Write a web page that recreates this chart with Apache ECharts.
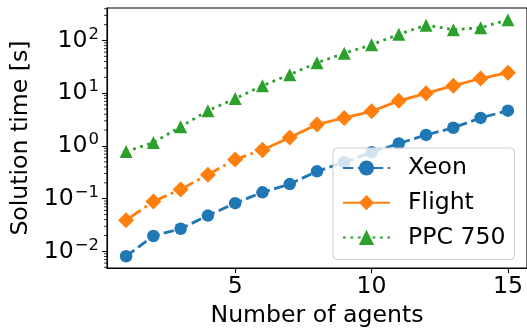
<!DOCTYPE html>
<html>
<head>
<meta charset="utf-8">
<script src="https://cdn.jsdelivr.net/npm/echarts@6/dist/echarts.min.js"></script>
<style>
  html, body { margin: 0; padding: 0; background: #fff; }
  #chart { width: 527px; height: 333px; }
</style>
</head>
<body>
<div id="chart"></div>
<script>
// ---- data ----
const agents = [1, 2, 3, 4, 5, 6, 7, 8, 9, 10, 11, 12, 13, 14, 15];
const xeon   = [0.0081, 0.0196, 0.0269, 0.0478, 0.082, 0.132, 0.189, 0.33, 0.49, 0.757, 1.11, 1.62, 2.21, 3.40, 4.66];
const flight = [0.039, 0.0883, 0.150, 0.285, 0.552, 0.84, 1.44, 2.55, 3.40, 4.54, 7.16, 9.96, 13.9, 19.0, 24.5];
const ppc750 = [0.78, 1.16, 2.31, 4.66, 7.9, 13.9, 22.5, 37.7, 57.2, 82.8, 131, 195, 160, 175, 246];
const flightSolidFrom = 6;          // Flight drawn dash-dot up to 6 agents, solid after
const xTicks = [5, 10, 15];
const yMinorTicks = [];
[0.001, 0.01, 0.1, 1, 10, 100].forEach(function (d) {
  [2, 3, 4, 5, 6, 7, 8, 9].forEach(function (m) { yMinorTicks.push(+(m * d).toPrecision(3)); });
});

const X_MIN = 0.3, X_MAX = 15.7;
const Y_MIN = 0.00482, Y_MAX = 413;
const FONT = 'DejaVu Sans';
const FS = 23.6;

const pairs = (ys, keep) => agents.map((x, i) => keep(x) ? [x, ys[i]] : null).filter(Boolean);

function logLabel(v) {
  const e = Math.round(Math.log10(v));
  if (Math.abs(Math.log10(v) - e) > 1e-6) return '';
  const s = String(e).replace('-', '\u2212');
  return '{b|10}{s|' + s + '}';
}

const chart = echarts.init(document.getElementById('chart'), null, { renderer: 'canvas' });
chart.setOption({
  animation: false,
  textStyle: { fontFamily: FONT },
  grid: { left: 107, top: 8, width: 422, height: 264.7, show: true, borderColor: '#000', borderWidth: 1.1, backgroundColor: 'transparent' },
  xAxis: {
    type: 'value', min: X_MIN, max: X_MAX,
    name: 'Number of agents', nameLocation: 'middle', nameGap: 35,
    nameTextStyle: { fontSize: FS, color: '#000', fontFamily: FONT },
    axisLine: { lineStyle: { color: '#000', width: 1.1 } },
    axisTick: { customValues: xTicks, length: 5, lineStyle: { color: '#000', width: 1.1 } },
    axisLabel: { customValues: xTicks, fontSize: FS, color: '#000', margin: 7, fontFamily: FONT },
    splitLine: { show: false }
  },
  yAxis: {
    type: 'log', logBase: 10, min: Y_MIN, max: Y_MAX,
    name: 'Solution time [s]', nameLocation: 'middle', nameGap: 72,
    nameTextStyle: { fontSize: FS, color: '#000', fontFamily: FONT },
    axisLine: { show: true, lineStyle: { color: '#000', width: 1.1 } },
    axisTick: { show: true, length: 5, lineStyle: { color: '#000', width: 1.1 } },
    axisLabel: {
      showMinLabel: false, showMaxLabel: false, margin: 8,
      formatter: logLabel,
      rich: {
        b: { fontSize: FS, color: '#000', fontFamily: FONT },
        s: { fontSize: 16.5, color: '#000', fontFamily: FONT, padding: [0, 0, 12, 1] }
      }
    },
    splitLine: { show: false }
  },
  legend: {
    data: ['Xeon', 'Flight', 'PPC 750'],
    orient: 'vertical', left: 333, top: 148,
    itemWidth: 47, itemHeight: 19, itemGap: 8.7,
    padding: [7, 9, 9, 9],
    backgroundColor: 'rgba(255,255,255,0.8)', borderColor: '#cccccc', borderWidth: 1, borderRadius: 4,
    textStyle: { fontSize: FS, color: '#000', fontFamily: FONT, padding: [0, 0, 0, 13], lineHeight: 26 }
  },
  series: [
    {
      name: 'Xeon', type: 'line', data: pairs(xeon, () => true),
      symbol: 'circle', symbolSize: 12.5,
      lineStyle: { color: '#1f77b4', width: 2.8, type: [10.4, 4.5] },
      itemStyle: { color: '#1f77b4' }
    },
    {
      name: 'Flight (dash-dot)', type: 'line', data: pairs(flight, x => x <= flightSolidFrom),
      symbol: 'diamond', symbolSize: 16,
      lineStyle: { color: '#ff7f0e', width: 2.8, type: [17.9, 4.5, 2.8, 4.5] },
      itemStyle: { color: '#ff7f0e' }
    },
    {
      name: 'Flight', type: 'line', data: pairs(flight, x => x >= flightSolidFrom),
      symbol: 'diamond', symbolSize: 16,
      lineStyle: { color: '#ff7f0e', width: 2.8, type: 'solid' },
      itemStyle: { color: '#ff7f0e' }
    },
    {
      name: 'PPC 750', type: 'line', data: pairs(ppc750, () => true),
      symbol: 'triangle', symbolSize: 13,
      lineStyle: { color: '#2ca02c', width: 2.8, type: [2.8, 4.6] },
      itemStyle: { color: '#2ca02c' }
    },
    {
      name: 'minorTicks', type: 'custom', silent: true, clip: false,
      data: yMinorTicks.filter(v => v > Y_MIN && v < Y_MAX).map(v => [X_MIN, v]),
      renderItem: function (params, api) {
        const p = api.coord([api.value(0), api.value(1)]);
        return { type: 'line', shape: { x1: p[0] - 3, y1: p[1], x2: p[0], y2: p[1] }, style: { stroke: '#000', lineWidth: 0.8 } };
      }
    }
  ]
});
</script>
</body>
</html>
